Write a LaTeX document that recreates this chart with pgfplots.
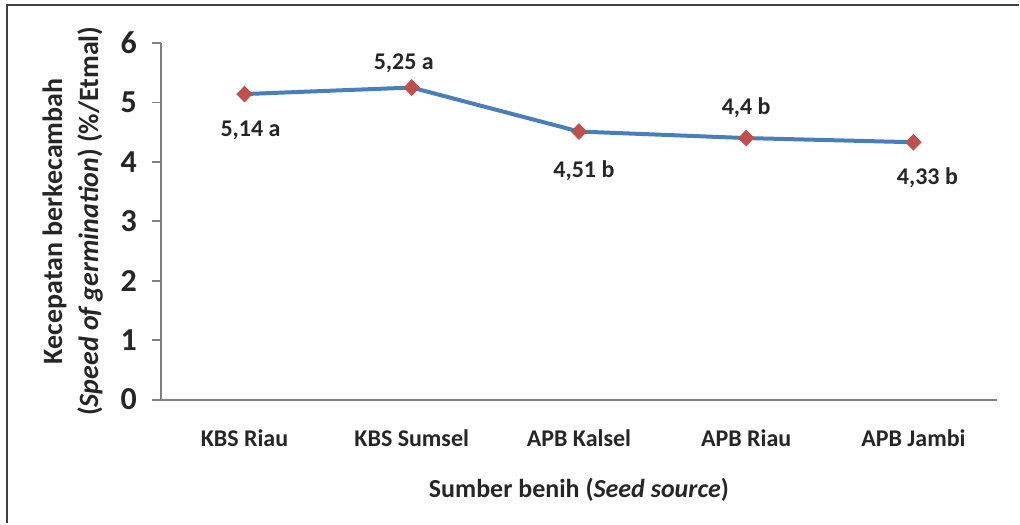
\documentclass[border=0pt]{standalone}
\usepackage{pgfplots}
\pgfplotsset{compat=1.18}
\usepackage{fontspec}
\setmainfont{Carlito}
\definecolor{lineblue}{HTML}{4A7EBB}
\definecolor{mkred}{HTML}{C0504D}
\definecolor{axgray}{HTML}{7F7F7F}
\definecolor{framegray}{HTML}{404040}
\definecolor{txt}{HTML}{262626}
\begin{document}
\begin{tikzpicture}
\begin{axis}[
  scale only axis,
  width=418.5pt, height=178.5pt,
  xmin=-0.5, xmax=4.5, ymin=0, ymax=6,
  clip=false,
  axis x line=bottom, axis y line=left,
  axis line style={axgray, line width=0.9pt, -},
  xtick={0,1,2,3,4},
  xticklabels={KBS Riau, KBS Sumsel, APB Kalsel, APB Riau, APB Jambi},
  major x tick style={draw=none},
  ytick={0,1,2,3,4,5,6},
  ytick style={axgray, line width=0.9pt},
  tick align=outside,
  major tick length=4.5pt,
  /pgf/number format/assume math mode=true,
  yticklabel style={font=\fontsize{16}{18}\selectfont\bfseries, text=txt, xshift=-4pt},
  xticklabel style={font=\fontsize{12}{14}\selectfont\bfseries, text=txt, yshift=-7pt},
  xlabel={Sumber benih (\textit{Seed source})},
  xlabel style={font=\fontsize{13}{15}\selectfont\bfseries, text=txt, yshift=-9pt},
  ylabel={Kecepatan berkecambah\\(\textit{Speed of germination}) (\%/Etmal)},
  ylabel style={font=\fontsize{14}{18}\selectfont\bfseries, text=txt, align=center, yshift=2pt},
]
\addplot[color=lineblue, line width=2pt, mark=diamond*, mark size=3.9pt,
  mark options={fill=mkred, draw=mkred, line width=0.4pt, xscale=1.3}]
  coordinates {(0,5.14) (1,5.25) (2,4.51) (3,4.4) (4,4.33)};
\begin{scope}[every node/.style={font=\fontsize{12}{14}\selectfont\bfseries, text=txt}]
\node at ([shift={(3pt,-18pt)}]axis cs:0,5.14) {5,14 a};
\node at ([shift={(-4pt,12pt)}]axis cs:1,5.25) {5,25 a};
\node at ([shift={(2.5pt,-19.5pt)}]axis cs:2,4.51) {4,51 b};
\node at ([shift={(0pt,15pt)}]axis cs:3,4.4) {4,4 b};
\node at ([shift={(7pt,-18pt)}]axis cs:4,4.33) {4,33 b};
\end{scope}
\path (rel axis cs:-0.19235,-0.34734) rectangle (rel axis cs:1.02628,1.12045);
\draw[framegray, line width=1pt] (rel axis cs:-0.18399,-0.34734) -- (rel axis cs:-0.18399,1.10644) -- (rel axis cs:1.02628,1.10644);
\end{axis}
\end{tikzpicture}
\end{document}
